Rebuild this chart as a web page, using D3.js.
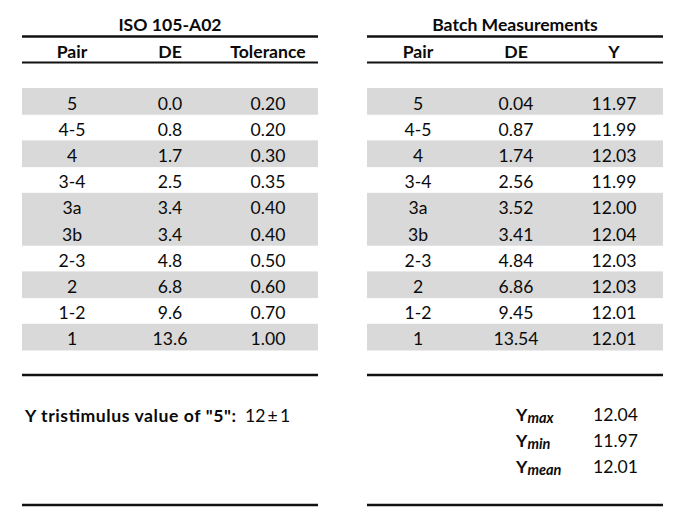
<!DOCTYPE html>
<html><head><meta charset="utf-8">
<script src="https://cdn.jsdelivr.net/npm/d3@7"></script>
<style>body{margin:0;background:#fff}svg{display:block}text{font-family:Lato,"Open Sans",sans-serif;fill:#0a0a0a}</style>
</head><body><div id="c"></div>
<script>
const pairs = ["5","4-5","4","3-4","3a","3b","2-3","2","1-2","1"];
const isoDE = ["0.0","0.8","1.7","2.5","3.4","3.4","4.8","6.8","9.6","13.6"];
const tolerance = ["0.20","0.20","0.30","0.35","0.40","0.40","0.50","0.60","0.70","1.00"];
const batchDE = ["0.04","0.87","1.74","2.56","3.52","3.41","4.84","6.86","9.45","13.54"];
const batchY = ["11.97","11.99","12.03","11.99","12.00","12.04","12.03","12.03","12.01","12.01"];
const leftTitle = "ISO 105-A02";
const rightTitle = "Batch Measurements";
const leftHeaders = ["Pair","DE","Tolerance"];
const rightHeaders = ["Pair","DE","Y"];
const statLabels = ["max","min","mean"];
const statValues = ["12.04","11.97","12.01"];
const noteLabel = 'Y tristimulus value of "5":';
const noteValue = "12\u2009\u00b1\u20091";

const W = 688, H = 521;
const svg = d3.select("#c").append("svg").attr("width", W).attr("height", H);
const shaded = [0,2,4,5,7,9];
const y = d3.scaleBand().domain(d3.range(pairs.length)).range([88, 350]).padding(0);
const FS = 17.6;

function table(x0, x1, title, headers, cols, centers) {
  const g = svg.append("g");
  g.append("text").attr("x", (x0 + x1) / 2).attr("y", 31).attr("text-anchor", "middle")
    .attr("font-weight", "bold").attr("font-size", FS).text(title);
  g.append("line").attr("x1", x0).attr("x2", x1).attr("y1", 36.5).attr("y2", 36.5).attr("stroke", "#111").attr("stroke-width", 2.6);
  headers.forEach((h, i) => g.append("text").attr("x", centers[i]).attr("y", 57.5).attr("text-anchor", "middle")
    .attr("font-weight", "bold").attr("font-size", FS).text(h));
  g.append("line").attr("x1", x0).attr("x2", x1).attr("y1", 62.5).attr("y2", 62.5).attr("stroke", "#111").attr("stroke-width", 2);
  g.selectAll("rect.s").data(shaded).join("rect").attr("class", "s")
    .attr("x", x0).attr("width", x1 - x0).attr("y", d => y(d)).attr("height", y.bandwidth() + 0.5).attr("fill", "#d9d9d9");
  cols.forEach((col, ci) => {
    g.selectAll("text.c" + ci).data(col).join("text").attr("class", "c" + ci)
      .attr("x", centers[ci]).attr("y", (d, i) => y(i) + y.bandwidth() / 2 + 8.5)
      .attr("text-anchor", "middle").attr("font-size", FS).text(d => d);
  });
  g.append("line").attr("x1", x0).attr("x2", x1).attr("y1", 375).attr("y2", 375).attr("stroke", "#111").attr("stroke-width", 2.6);
  g.append("line").attr("x1", x0).attr("x2", x1).attr("y1", 505).attr("y2", 505).attr("stroke", "#111").attr("stroke-width", 2.6);
}
table(22, 318, leftTitle, leftHeaders, [pairs, isoDE, tolerance], [72, 170, 268]);
table(367, 663, rightTitle, rightHeaders, [pairs, batchDE, batchY], [418, 516, 614]);

svg.append("text").attr("x", 25).attr("y", 422).attr("font-size", FS).attr("font-weight", "bold")
  .attr("textLength", 211).attr("lengthAdjust", "spacing").text(noteLabel);
svg.append("text").attr("x", 245).attr("y", 422).attr("font-size", FS).text(noteValue);

statLabels.forEach((s, i) => {
  const t = svg.append("text").attr("x", 516).attr("y", 421 + i * 26).attr("font-size", FS).attr("font-weight", "bold");
  t.append("tspan").text("Y");
  t.append("tspan").attr("font-style", "italic").attr("font-size", 14.5).attr("dy", 1.5).text(s);
  svg.append("text").attr("x", 593).attr("y", 421 + i * 26).attr("font-size", FS).text(statValues[i]);
});
</script></body></html>
